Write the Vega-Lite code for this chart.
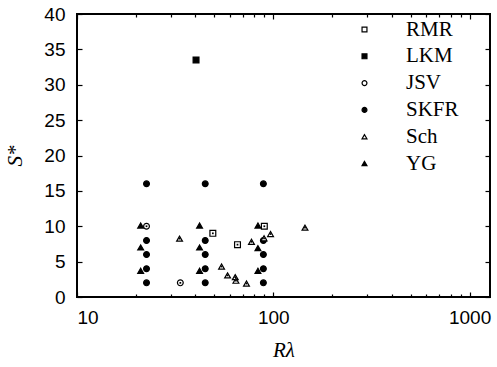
{
  "$schema": "https://vega.github.io/schema/vega-lite/v6.json",
  "width": 413,
  "height": 283,
  "autosize": "none",
  "padding": {"left": 77, "top": 14, "right": 7, "bottom": 70},
  "background": "white",
  "config": {
    "view": {"stroke": "black", "strokeWidth": 2},
    "axis": {"grid": false, "domain": false, "tickColor": "black", "tickWidth": 1.2, "labelColor": "black", "labelFont": "Liberation Sans", "labelFontSize": 19, "titleColor": "black"}
  },
  "data": {"values": [
    {"series": "SKFR", "R": 22.6, "S": 2},
    {"series": "SKFR", "R": 22.6, "S": 4},
    {"series": "SKFR", "R": 22.6, "S": 6},
    {"series": "SKFR", "R": 22.6, "S": 8},
    {"series": "SKFR", "R": 22.6, "S": 16},
    {"series": "SKFR", "R": 45, "S": 2},
    {"series": "SKFR", "R": 45, "S": 4},
    {"series": "SKFR", "R": 45, "S": 6},
    {"series": "SKFR", "R": 45, "S": 8},
    {"series": "SKFR", "R": 45, "S": 16},
    {"series": "SKFR", "R": 89, "S": 2},
    {"series": "SKFR", "R": 89, "S": 4},
    {"series": "SKFR", "R": 89, "S": 6},
    {"series": "SKFR", "R": 89, "S": 8},
    {"series": "SKFR", "R": 89, "S": 16},
    {"series": "LKM", "R": 40.4, "S": 33.5},
    {"series": "JSV", "R": 22.6, "S": 10},
    {"series": "JSV", "R": 33.6, "S": 2},
    {"series": "RMR", "R": 49.2, "S": 9},
    {"series": "RMR", "R": 65.7, "S": 7.4},
    {"series": "RMR", "R": 90, "S": 10},
    {"series": "YG", "R": 21.1, "S": 10.1},
    {"series": "YG", "R": 21.1, "S": 7},
    {"series": "YG", "R": 21.1, "S": 3.7},
    {"series": "YG", "R": 42.1, "S": 10.1},
    {"series": "YG", "R": 42.1, "S": 7},
    {"series": "YG", "R": 42.1, "S": 3.7},
    {"series": "YG", "R": 83.5, "S": 10.1},
    {"series": "YG", "R": 83.5, "S": 6.9},
    {"series": "YG", "R": 83.5, "S": 3.7},
    {"series": "Sch", "R": 33.3, "S": 8.25},
    {"series": "Sch", "R": 54.5, "S": 4.3},
    {"series": "Sch", "R": 58.5, "S": 3.05},
    {"series": "Sch", "R": 64, "S": 2.8},
    {"series": "Sch", "R": 64.5, "S": 2.3},
    {"series": "Sch", "R": 73, "S": 1.9},
    {"series": "Sch", "R": 77.4, "S": 7.8},
    {"series": "Sch", "R": 89.7, "S": 8.3},
    {"series": "Sch", "R": 96.8, "S": 8.9},
    {"series": "Sch", "R": 145, "S": 9.8}
  ]},
  "resolve": {"axis": {"x": "independent", "y": "independent"}},
  "layer": [
    {
      "mark": {"type": "point", "filled": true, "stroke": "black", "strokeWidth": 1.2, "size": 34, "opacity": 1},
      "encoding": {
        "x": {"field": "R", "type": "quantitative", "scale": {"type": "log", "domain": [10, 1270], "nice": false},
              "axis": {"orient": "bottom", "values": [10, 100, 1000], "tickSize": -5, "labelPadding": 16, "format": "d",
                       "title": "Rλ", "titleFont": "Liberation Serif", "titleFontStyle": "italic", "titleFontWeight": "normal", "titleFontSize": 21, "titlePadding": 12}},
        "y": {"field": "S", "type": "quantitative", "scale": {"domain": [0, 40], "nice": false},
              "axis": {"orient": "left", "values": [0, 5, 10, 15, 20, 25, 30, 35, 40], "tickSize": -5, "labelPadding": 17,
                       "title": "S*", "titleFont": "Liberation Serif", "titleFontStyle": "italic", "titleFontWeight": "normal", "titleFontSize": 21, "titlePadding": 18}},
        "shape": {"field": "series", "type": "nominal",
                  "scale": {"domain": ["RMR", "LKM", "JSV", "SKFR", "Sch", "YG"], "range": ["square", "square", "circle", "circle", "triangle-up", "triangle-up"]},
                  "legend": {"title": null, "orient": "none", "legendX": 277, "legendY": 5, "padding": 0, "labelFont": "Liberation Serif", "labelFontSize": 21, "labelColor": "black", "labelOffset": 31, "symbolSize": 24, "rowPadding": 4.8, "symbolStrokeWidth": 1.2, "symbolOpacity": 1}},
        "fill": {"field": "series", "type": "nominal",
                 "scale": {"domain": ["RMR", "LKM", "JSV", "SKFR", "Sch", "YG"], "range": ["white", "black", "white", "black", "white", "black"]},
                 "legend": {"title": null, "orient": "none", "legendX": 277, "legendY": 5, "padding": 0, "labelFont": "Liberation Serif", "labelFontSize": 21, "labelColor": "black", "labelOffset": 31, "symbolSize": 24, "rowPadding": 4.8, "symbolStrokeWidth": 1.2, "symbolOpacity": 1}}
      }
    },
    {
      "transform": [{"filter": "datum.series == 'RMR' || datum.series == 'JSV' || datum.series == 'Sch'"}],
      "mark": {"type": "point", "filled": true, "color": "black", "size": 3, "shape": "square", "opacity": 1},
      "encoding": {
        "x": {"field": "R", "type": "quantitative", "axis": {"orient": "bottom", "values": [20, 30, 40, 50, 60, 70, 80, 90, 200, 300, 400, 500, 600, 700, 800, 900], "tickSize": -3, "labels": false, "title": null}},
        "y": {"field": "S", "type": "quantitative", "axis": {"orient": "right", "values": [0, 5, 10, 15, 20, 25, 30, 35, 40], "tickSize": -5, "labels": false, "title": null}}
      }
    },
    {
      "mark": {"type": "point", "opacity": 0},
      "encoding": {
        "x": {"field": "R", "type": "quantitative", "axis": {"orient": "top", "values": [10, 100, 1000], "tickSize": -5, "labels": false, "title": null}},
        "y": {"field": "S", "type": "quantitative", "axis": null}
      }
    },
    {
      "mark": {"type": "point", "opacity": 0},
      "encoding": {
        "x": {"field": "R", "type": "quantitative", "axis": {"orient": "top", "values": [20, 30, 40, 50, 60, 70, 80, 90, 200, 300, 400, 500, 600, 700, 800, 900], "tickSize": -3, "labels": false, "title": null}},
        "y": {"field": "S", "type": "quantitative", "axis": null}
      }
    }
  ]
}
